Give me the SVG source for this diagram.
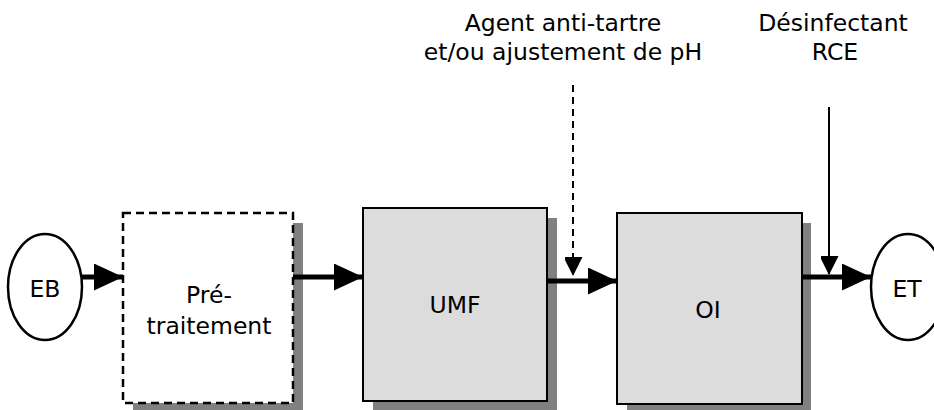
<svg xmlns="http://www.w3.org/2000/svg" width="934" height="410" viewBox="0 0 934 410">
<style>
text{font-family:"DejaVu Sans",Verdana,sans-serif;font-size:23.5px;fill:#000;text-anchor:middle}
.shadow{fill:#808080}
.box{fill:#dcdcdc;stroke:#000;stroke-width:2}
.dbox{fill:#fff;stroke:#000;stroke-width:2.5;stroke-dasharray:8 5}
.ell{fill:#fff;stroke:#000;stroke-width:2.5}
.flow{stroke:#000;stroke-width:5;fill:none}
.feed{stroke:#000;stroke-width:2;fill:none}
</style>
<defs>
<marker id="big" viewBox="0 0 29 27" refX="29" refY="13.5" markerWidth="29" markerHeight="27" markerUnits="userSpaceOnUse" orient="auto">
<path d="M0 0L29 13.5L0 27Z" fill="#000"/>
</marker>
<marker id="small" viewBox="0 0 19 18" refX="18" refY="9.5" markerWidth="19" markerHeight="18" markerUnits="userSpaceOnUse" orient="auto">
<path d="M0 0L19 9.5L0 19Z" fill="#000"/>
</marker>
</defs>
<g id="EB">
<ellipse class="ell" cx="45" cy="287" rx="37" ry="53"/>
<text x="45" y="297">EB</text>
</g>
<g id="pretraitement">
<rect class="shadow" x="133" y="223" width="170" height="187"/>
<rect class="dbox" x="123" y="213" width="170" height="190"/>
<text x="209" y="303">Pré-</text>
<text x="209" y="334">traitement</text>
</g>
<g id="UMF">
<rect class="shadow" x="373" y="218" width="184" height="192"/>
<rect class="box" x="363" y="208" width="184" height="193"/>
<text x="455" y="313">UMF</text>
</g>
<g id="OI">
<rect class="shadow" x="627" y="223" width="184" height="187"/>
<rect class="box" x="617" y="213" width="185" height="191"/>
<text x="708" y="318">OI</text>
</g>
<g id="ET">
<ellipse class="ell" cx="908" cy="287" rx="37" ry="53"/>
<text x="907" y="297">ET</text>
</g>
<g id="labels">
<text x="563" y="31">Agent anti-tartre</text>
<text x="563" y="60">et/ou ajustement de pH</text>
<text x="833" y="31">Désinfectant</text>
<text x="835" y="60">RCE</text>
</g>
<g id="connectors">
<line class="flow" x1="82" y1="277" x2="123" y2="277" marker-end="url(#big)"/>
<line class="flow" x1="293" y1="277" x2="363" y2="277" marker-end="url(#big)"/>
<line class="flow" x1="547" y1="281" x2="617" y2="281" marker-end="url(#big)"/>
<line class="flow" x1="802" y1="277" x2="871" y2="277" marker-end="url(#big)"/>
<line class="feed" x1="573" y1="85" x2="573" y2="275" stroke-dasharray="7 5" marker-end="url(#small)"/>
<line class="feed" x1="829" y1="107" x2="829" y2="274" marker-end="url(#small)"/>
</g>
</svg>
